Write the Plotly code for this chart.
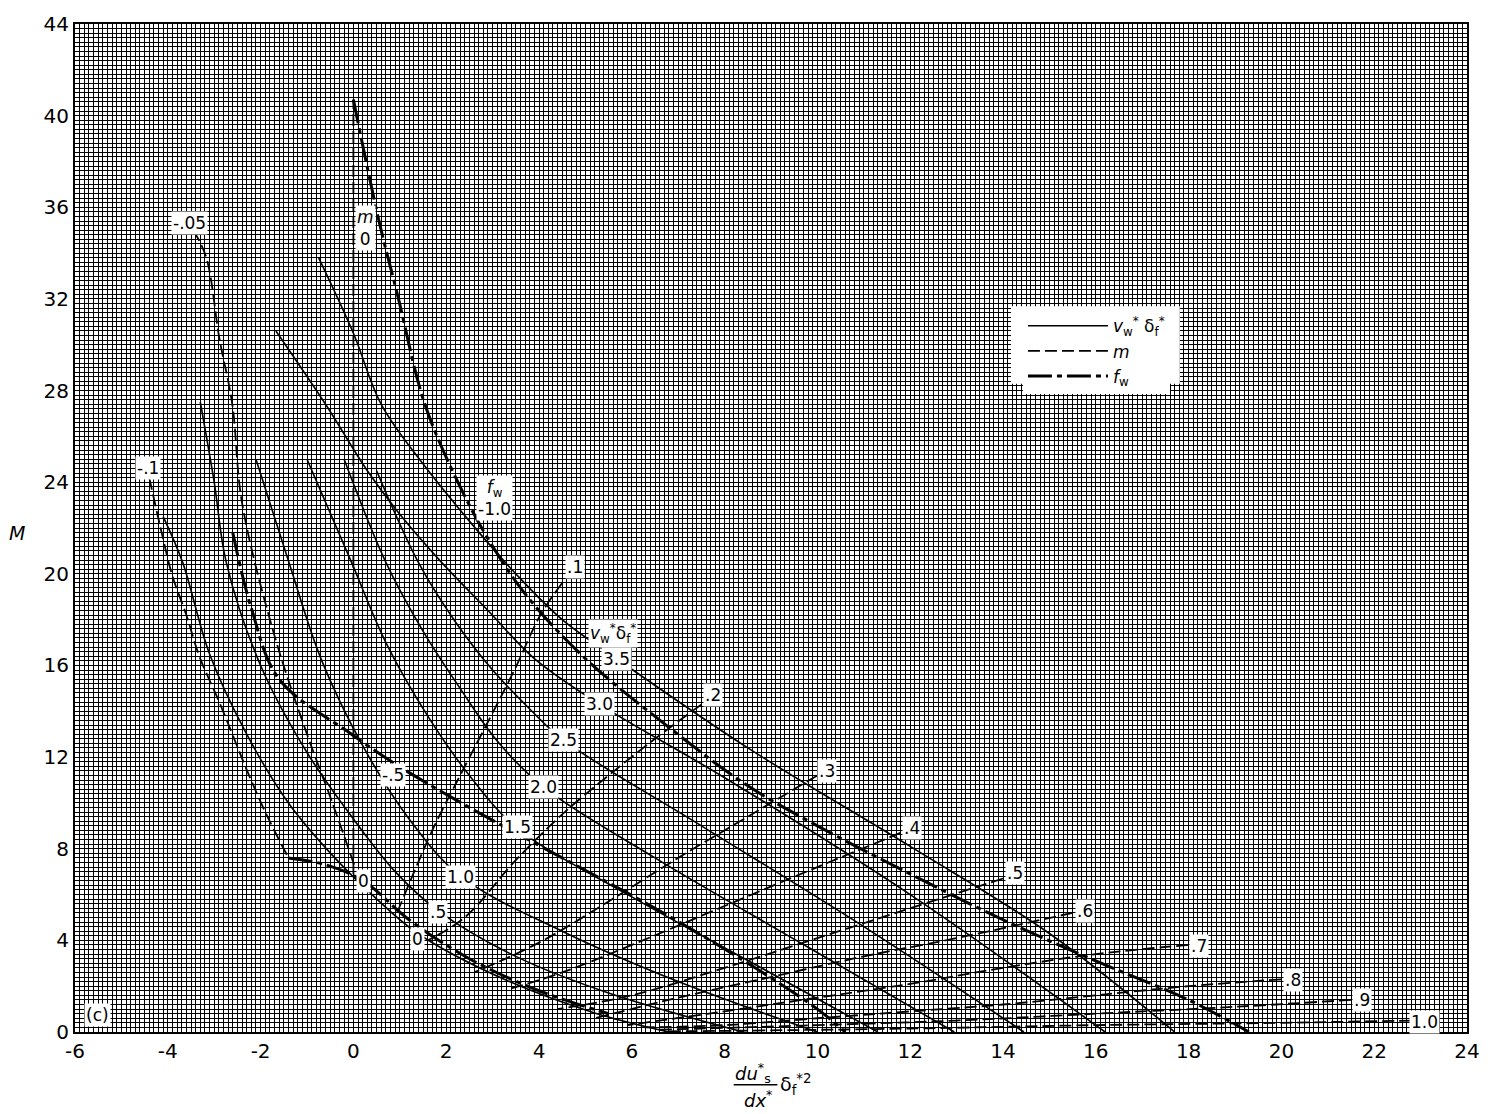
import plotly.graph_objects as go

# ---- axis ticks ----
x_tick_vals = list(range(-6, 25))
x_tick_text = [str(v) if v % 2 == 0 else "" for v in x_tick_vals]
y_tick_vals = list(range(0, 45, 2))
y_tick_text = [str(v) if v % 4 == 0 else "" for v in y_tick_vals]

# ---- curves of constant v_w* delta_f* (solid) ----
vw_values = ["0", ".5", "1.0", "1.5", "2.0", "2.5", "3.0", "3.5"]
vw_x = [
    [-4.1, -3.68, -3.1, -2.3, -1.4, -0.4, 0.4, 1.39, 3.25, 5.25, 6.8],
    [-3.3, -3.0, -2.74, -2.0, -1.0, 0.0, 0.9, 1.82, 3.5, 5.5, 8.4],
    [-2.1, -1.39, -0.7, 0.2, 1.2, 2.31, 4.5, 7.0, 10.0],
    [-1.0, -0.04, 0.7, 1.6, 2.5, 3.53, 6.0, 8.7, 11.3],
    [-0.2, 0.7, 1.5, 2.3, 3.1, 4.09, 6.5, 9.8, 12.95],
    [0.5, 1.4, 2.2, 3.0, 3.8, 4.52, 7.5, 11.0, 14.45],
    [-1.67, -0.6, 0.3, 1.0, 1.9, 2.9, 3.9, 5.31, 8.0, 12.0, 16.2],
    [-0.75, 0.0, 0.6, 1.5, 2.5, 3.5, 4.5, 5.67, 8.5, 12.0, 15.0, 17.7],
]
vw_y = [
    [22.5, 20.5, 16.5, 13.0, 10.0, 7.6, 6.0, 4.3, 2.3, 0.8, 0.0],
    [27.5, 24.0, 20.5, 16.0, 12.2, 9.3, 7.0, 5.3, 3.3, 1.7, 0.0],
    [25.0, 20.5, 16.3, 12.5, 9.3, 6.8, 4.4, 2.2, 0.0],
    [25.0, 20.5, 17.0, 13.8, 11.2, 8.9, 5.9, 2.9, 0.0],
    [25.0, 20.5, 17.5, 15.0, 12.7, 10.7, 7.6, 3.7, 0.0],
    [24.5, 20.5, 17.9, 15.8, 14.1, 12.75, 9.0, 4.6, 0.0],
    [30.6, 27.4, 24.5, 22.6, 20.5, 18.4, 16.3, 14.3, 11.1, 6.0, 0.0],
    [33.8, 30.5, 27.4, 24.8, 22.3, 20.0, 18.0, 16.3, 12.4, 8.1, 4.3, 0.0],
]

# ---- curves of constant m (dashed) ----
m_values = ["-.1", "-.05", "0", ".1", ".2", ".3", ".4", ".5", ".6", ".7", ".8", ".9", "1.0"]
m_x = [
    [-4.4, -4.11, -3.9, -3.6, -3.32, -2.89, -2.61, -2.31, -1.9, -1.4],
    [-3.45, -3.17, -2.89, -2.61, -2.4, -1.7, -1.0, -0.47, 0.05],
    [0.0, 0.0],
    [4.5, 4.03, 3.47, 2.89, 2.3, 1.7, 0.9],
    [7.5, 6.5, 5.5, 4.5, 3.5, 2.4, 1.6],
    [10.0, 8.5, 7.0, 5.5, 4.0, 2.6],
    [11.8, 10.0, 8.0, 6.0, 4.5, 3.4],
    [14.0, 12.0, 10.0, 8.0, 6.0, 4.4],
    [15.5, 13.0, 11.0, 9.0, 7.0, 5.2],
    [18.0, 16.0, 14.0, 12.0, 10.0, 8.0, 5.9],
    [20.0, 18.0, 16.0, 14.0, 12.0, 10.0, 8.0, 6.3],
    [21.5, 19.0, 16.0, 13.0, 10.0, 6.6],
    [22.8, 20.0, 16.0, 12.0, 8.0, 6.8],
]
m_y = [
    [24.2, 21.6, 19.9, 18.2, 16.4, 14.4, 13.0, 11.5, 9.6, 7.6],
    [35.0, 33.8, 30.3, 27.4, 23.1, 17.3, 13.0, 10.1, 7.1],
    [6.9, 40.7],
    [19.6, 18.2, 15.8, 13.5, 11.2, 8.8, 5.0],
    [14.3, 12.8, 11.2, 9.5, 7.5, 5.0, 4.0],
    [11.2, 9.4, 7.6, 5.7, 3.9, 2.6],
    [8.7, 7.2, 5.5, 3.8, 2.6, 1.9],
    [6.7, 5.4, 4.1, 2.8, 1.6, 1.0],
    [5.2, 4.1, 3.3, 2.4, 1.5, 0.6],
    [3.8, 3.4, 2.8, 2.1, 1.5, 0.9, 0.3],
    [2.3, 2.0, 1.6, 1.2, 0.9, 0.6, 0.3, 0.2],
    [1.4, 1.1, 0.8, 0.5, 0.3, 0.1],
    [0.5, 0.4, 0.3, 0.15, 0.05, 0.03],
]

# ---- curves of constant f_w (dash-dot) ----
fw_values = ["-1.0", "-.5", "0"]
fw_x = [
    [0.0, 0.54, 0.96, 1.54, 2.3, 3.0, 3.75, 5.0, 6.8, 8.46, 10.0, 12.0, 14.0, 16.0, 18.0, 19.3],
    [-2.6, -2.2, -1.6, -0.04, 0.9, 2.5, 4.5, 6.5, 8.5, 10.0, 10.6],
    [-1.4, -0.6, 0.21, 1.2, 2.5, 4.0, 5.5],
]
fw_y = [
    [40.7, 35.5, 32.1, 27.4, 23.8, 21.2, 19.0, 16.3, 13.3, 10.8, 9.0, 6.9, 4.9, 3.1, 1.4, 0.0],
    [21.8, 18.5, 15.4, 13.0, 11.7, 9.8, 7.6, 5.4, 3.0, 1.0, 0.0],
    [7.6, 7.3, 6.6, 4.9, 3.2, 1.8, 0.8],
]

# ---- label positions for the curve values ----
vw_label_x = [1.39, 1.82, 2.31, 3.53, 4.09, 4.52, 5.31, 5.67]
vw_label_y = [4.08, 5.25, 6.77, 8.94, 10.7, 12.75, 14.3, 16.3]
m_label_x = [-4.43, -3.53, 0.27, 4.78, 7.75, 10.2, 12.03, 14.26, 15.76, 18.22, 20.24, 21.73, 23.08]
m_label_y = [24.6, 35.3, 35.1, 20.3, 14.7, 11.4, 8.9, 6.94, 5.3, 3.77, 2.26, 1.39, 0.43]
fw_label_x = [3.04, 0.86, 0.21]
fw_label_y = [23.3, 11.2, 6.6]

fig = go.Figure()

SOLID_W = 1.6
DASH_W = 1.8
FW_W = 3.0

for i, (xs, ys) in enumerate(zip(vw_x, vw_y)):
    fig.add_trace(go.Scatter(
        x=xs, y=ys, mode="lines",
        line=dict(color="black", width=SOLID_W, shape="spline", smoothing=1.0),
        name="<i>v</i><sub>w</sub><sup>*</sup> δ<sub>f</sub><sup>*</sup>",
        legendgroup="vw", showlegend=(i == 0), hoverinfo="skip"))

for i, (xs, ys) in enumerate(zip(m_x, m_y)):
    fig.add_trace(go.Scatter(
        x=xs, y=ys, mode="lines",
        line=dict(color="black", width=DASH_W, dash="12px,5px", shape="spline", smoothing=1.0),
        name="<i>m</i>", legendgroup="m", showlegend=(i == 0), hoverinfo="skip"))

for i, (xs, ys) in enumerate(zip(fw_x, fw_y)):
    fig.add_trace(go.Scatter(
        x=xs, y=ys, mode="lines",
        line=dict(color="black", width=FW_W, dash="24px,5px,5px,5px", shape="spline", smoothing=1.0),
        name="<i>f</i><sub>w</sub>", legendgroup="fw", showlegend=(i == 0), hoverinfo="skip"))

LABEL_FONT = dict(family="DejaVu Sans", size=17, color="black")


def add_label(x, y, text):
    fig.add_annotation(x=x, y=y, xref="x", yref="y", text=text, showarrow=False,
                       font=LABEL_FONT, bgcolor="white", borderpad=1)


for x, y, t in zip(vw_label_x, vw_label_y, vw_values):
    add_label(x, y, t)
for x, y, t in zip(m_label_x, m_label_y, m_values):
    if t == "0":
        add_label(x, y, "<i>m</i><br>0")
    else:
        add_label(x, y, t)
for x, y, t in zip(fw_label_x, fw_label_y, fw_values):
    if t == "-1.0":
        add_label(x, y, "<i>f</i><sub>w</sub><br>-1.0")
    else:
        add_label(x, y, t)

# family title over the 3.5 label
add_label(5.6, 17.4, "<i>v</i><sub>w</sub><sup>*</sup>δ<sub>f</sub><sup>*</sup>")
# panel tag
add_label(-5.52, 0.75, "(c)")

axis_font = dict(family="DejaVu Sans", size=20, color="black")

# graph-paper ruling: fine lines every 0.1 (x) / 0.2 (y), slightly heavier every 1 / 2
fig.update_xaxes(
    range=[-6, 24], tickmode="array", tickvals=x_tick_vals, ticktext=x_tick_text,
    showgrid=True, gridcolor="black", gridwidth=1.45,
    minor=dict(tickmode="linear", tick0=0, dtick=0.1, showgrid=True,
               gridcolor="black", gridwidth=1.35),
    showline=True, linecolor="black", linewidth=2, mirror=True,
    ticks="", zeroline=False, tickfont=axis_font)
fig.update_yaxes(
    range=[0, 44], tickmode="array", tickvals=y_tick_vals, ticktext=y_tick_text,
    showgrid=True, gridcolor="black", gridwidth=1.45,
    minor=dict(tickmode="linear", tick0=0, dtick=0.2, showgrid=True,
               gridcolor="black", gridwidth=1.35),
    showline=True, linecolor="black", linewidth=2, mirror=True,
    ticks="", zeroline=False, tickfont=axis_font)

# axis titles
title_font = dict(family="DejaVu Sans", size=18, color="black")
fig.add_annotation(x=-0.0343, y=0.495, xref="paper", yref="paper", text="<i>M</i>",
                   showarrow=False, font=dict(family="DejaVu Sans", size=19, color="black"),
                   xanchor="right")
# x title: (du_s*/dx*) delta_f*^2 written as a stacked fraction
fig.add_annotation(x=0.4868, y=-0.0552, xref="paper", yref="paper",
                   text="<i>du</i><sup>*</sup><sub>s</sub>", showarrow=False,
                   font=title_font, yanchor="bottom")
fig.add_annotation(x=0.4904, y=-0.0523, xref="paper", yref="paper",
                   text="<i>dx</i><sup>*</sup>", showarrow=False,
                   font=title_font, yanchor="top")
fig.add_annotation(x=0.5175, y=-0.0523, xref="paper", yref="paper",
                   text="δ<sub>f</sub><sup>*2</sup>", showarrow=False,
                   font=dict(family="DejaVu Sans", size=19, color="black"), yanchor="middle")
fig.add_shape(type="line", xref="paper", yref="paper", x0=0.4732, x1=0.5046,
              y0=-0.0523, y1=-0.0523, line=dict(color="black", width=1.5))

# white panel behind the key
fig.add_shape(type="rect", xref="paper", yref="paper", x0=0.6724, x1=0.7937,
              y0=0.643, y1=0.72, fillcolor="white", line=dict(width=0), layer="above")

fig.update_layout(
    width=1492, height=1114,
    margin=dict(l=75, r=16, t=18, b=82),
    paper_bgcolor="white", plot_bgcolor="white",
    showlegend=True,
    legend=dict(x=0.681, y=0.718, xanchor="left", yanchor="top",
                bgcolor="white", borderwidth=0, font=dict(family="DejaVu Sans", size=17, color="black"),
                itemwidth=80, tracegroupgap=0, itemclick=False, itemdoubleclick=False),
)

fig.write_html("out.html")
